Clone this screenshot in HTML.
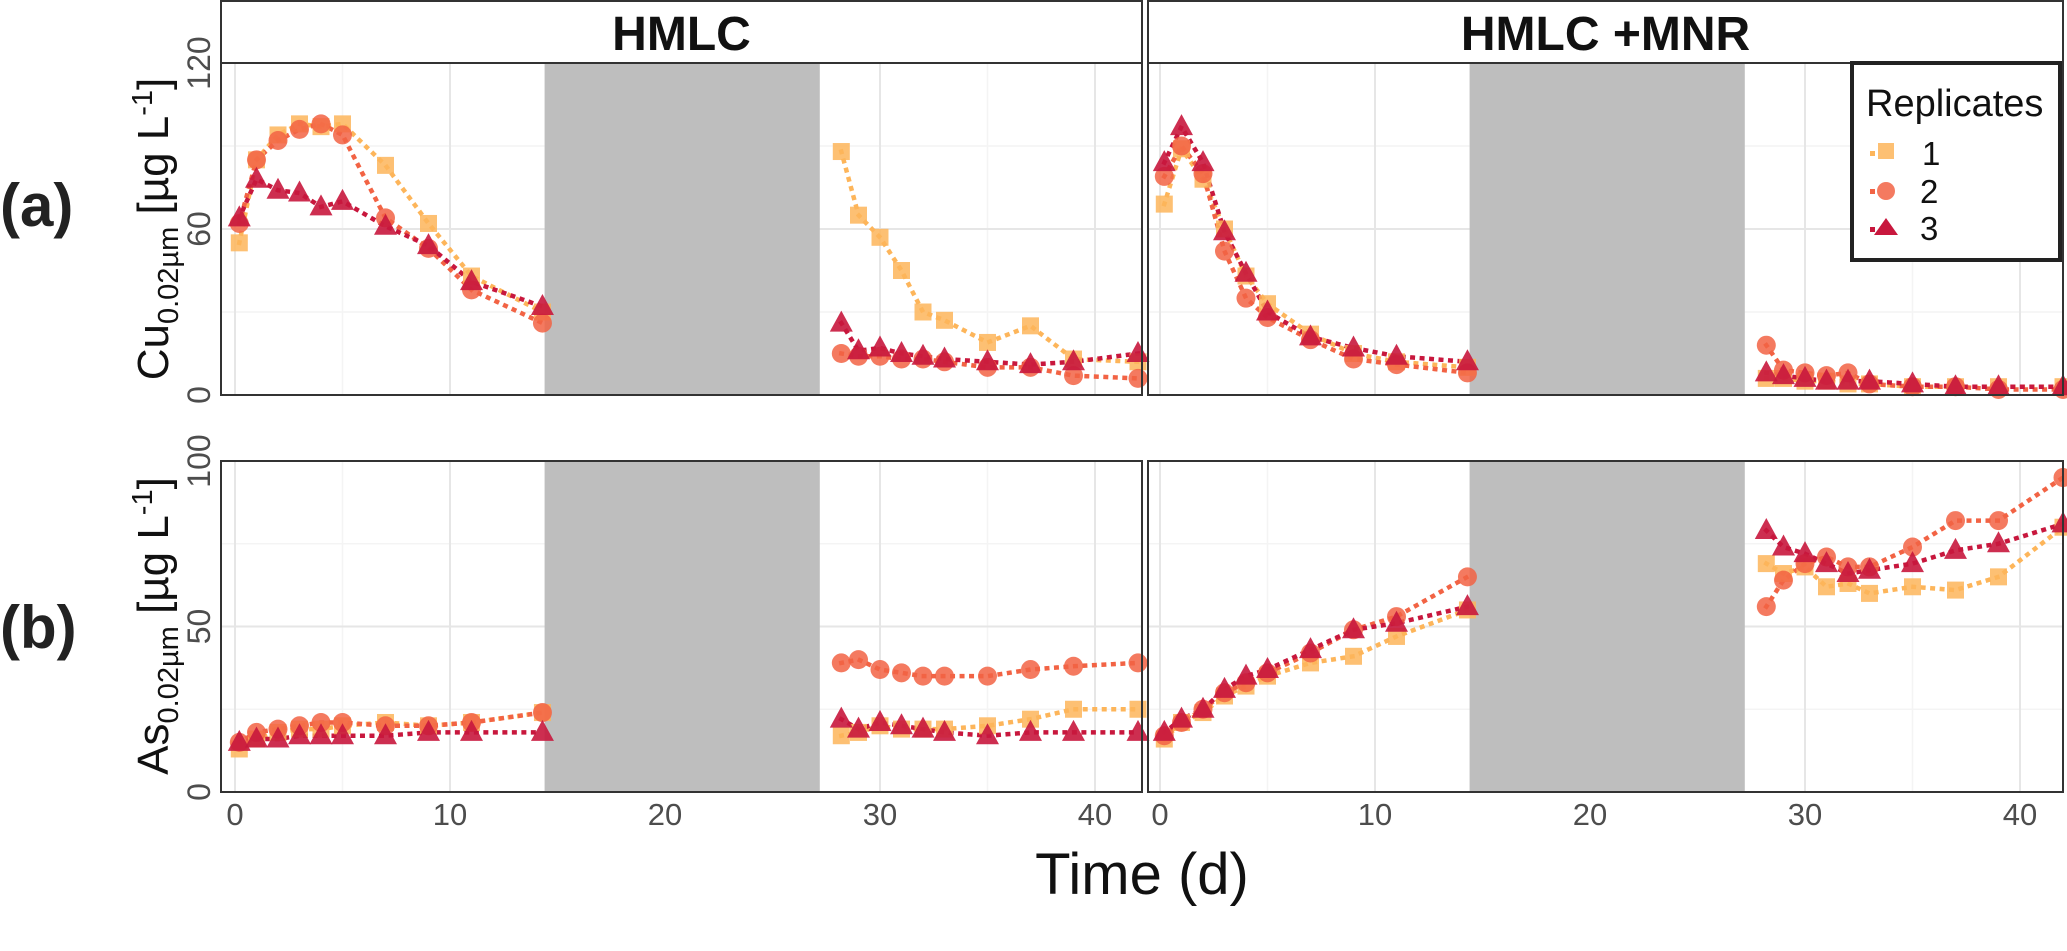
<!DOCTYPE html>
<html><head><meta charset="utf-8"><style>
body{margin:0;background:#fff}
svg{display:block;font-family:"Liberation Sans",Arial,sans-serif}
</style></head><body>
<svg id="chart" width="2067" height="951" viewBox="0 0 2067 951" xmlns="http://www.w3.org/2000/svg"></svg>
<script>
const days=[0.2,1,2,3,4,5,7,9,11,14.3,28.2,29,30,31,32,33,35,37,39,42];
const xTicks=[0,10,20,30,40];
const cuTicks=[0,60,120];
const asTicks=[0,50,100];
const pauseStart=14.4, pauseEnd=27.2;
const cuHMLC_r1=[55,85,94,98,97,98,83,62,43,30,88,65,57,45,30,27,19,25,13,12];
const cuHMLC_r2=[62,85,92,96,98,94,64,53,38,26,15,14,14,13,13,12,10,10,7,6];
const cuHMLC_r3=[64,78,74,73,68,70,61,54,41,32,26,16,17,15,14,13,12,11,12,15];
const cuMNR_r1=[69,89,78,60,43,33,22,15,12,10,6,6,5,5,4,4,3,3,3,3];
const cuMNR_r2=[79,90,80,52,35,28,20,13,11,8,18,9,8,7,8,4,3,3,2,2];
const cuMNR_r3=[84,97,84,59,44,30,21,17,14,12,8,7,6,5,5,5,4,3,3,3];
const asHMLC_r1=[13,16,18,19,19,20,21,20,21,24,17,18,20,19,19,19,20,22,25,25];
const asHMLC_r2=[15,18,19,20,21,21,20,20,21,24,39,40,37,36,35,35,35,37,38,39];
const asHMLC_r3=[15,16,16,17,17,17,17,18,18,18,22,19,21,20,19,18,17,18,18,18];
const asMNR_r1=[16,21,24,29,32,35,39,41,47,55,69,66,68,62,63,60,62,61,65,80];
const asMNR_r2=[17,21,25,30,33,36,42,49,53,65,56,64,69,71,68,68,74,82,82,95];
const asMNR_r3=[18,22,25,31,35,37,43,49,51,56,79,74,72,69,66,67,69,73,75,81];

const colors=['#fdb55a','#f26344','#c8173d'];
const NS='http://www.w3.org/2000/svg';
const svg=document.getElementById('chart');
function el(t,a,p){const e=document.createElementNS(NS,t);for(const k in a)e.setAttribute(k,a[k]);(p||svg).appendChild(e);return e;}

const panels=[
 {name:'cu-hmlc',x0:221,x1:1142,y0:63,y1:395,xo:235,ymax:120,ticks:cuTicks,series:[cuHMLC_r1,cuHMLC_r2,cuHMLC_r3],ylab:true},
 {name:'cu-hmlc-mnr',x0:1148,x1:2063,y0:63,y1:395,xo:1160,ymax:120,ticks:cuTicks,series:[cuMNR_r1,cuMNR_r2,cuMNR_r3],ylab:false},
 {name:'as-hmlc',x0:221,x1:1142,y0:461,y1:792,xo:235,ymax:100,ticks:asTicks,series:[asHMLC_r1,asHMLC_r2,asHMLC_r3],ylab:true},
 {name:'as-hmlc-mnr',x0:1148,x1:2063,y0:461,y1:792,xo:1160,ymax:100,ticks:asTicks,series:[asMNR_r1,asMNR_r2,asMNR_r3],ylab:false}
];
const pxDay=21.5;
function marker(g,k,x,y,c){
 const s=8.5;let m;
 if(k===0)m=el('rect',{x:x-s,y:y-s,width:2*s,height:2*s,fill:c,'fill-opacity':0.85},g);
 else if(k===1)m=el('circle',{cx:x,cy:y,r:s+1,fill:c,'fill-opacity':0.85},g);
 else m=el('polygon',{points:`${x},${y-s-4} ${x-s-3},${y+s} ${x+s+3},${y+s}`,fill:c,'fill-opacity':0.9},g);
 return m;
}
panels.forEach(p=>{
 const X=d=>p.xo+d*pxDay;
 const Y=v=>p.y1-(v/p.ymax)*(p.y1-p.y0);
 const g=el('g',{});
 
 
 for(let i=0;i<xTicks.length;i++){
  const mx=X(xTicks[i]+5);
  if(mx<p.x1) el('line',{x1:mx,x2:mx,y1:p.y0,y2:p.y1,stroke:'#f4f4f4','stroke-width':1.5},g);
 }
 for(let i=0;i<p.ticks.length-1;i++){const my=Y((p.ticks[i]+p.ticks[i+1])/2);el('line',{x1:p.x0,x2:p.x1,y1:my,y2:my,stroke:'#f4f4f4','stroke-width':1.5},g);}
 xTicks.forEach(t=>el('line',{x1:X(t),x2:X(t),y1:p.y0,y2:p.y1,stroke:'#e6e6e6','stroke-width':2},g));
 p.ticks.forEach(t=>el('line',{x1:p.x0,x2:p.x1,y1:Y(t),y2:Y(t),stroke:'#e6e6e6','stroke-width':2},g));
 const sh=el('rect',{x:X(pauseStart),y:p.y0,width:X(pauseEnd)-X(pauseStart),height:p.y1-p.y0,fill:'#bebebe'},g);
 
 
 p.series.forEach((s,k)=>{
  const before=[],after=[];
  s.forEach((v,i)=>{(days[i]<pauseStart?before:after).push(X(days[i])+','+Y(v));});
  [before,after].forEach(seg=>{
   const l=el('polyline',{points:seg.join(' '),fill:'none',stroke:colors[k],'stroke-width':4.5,'stroke-dasharray':'0.5 9','stroke-linecap':'square'},g);
   
   
  });
 });
 p.series.forEach((s,k)=>{
  s.forEach((v,i)=>{
   const m=marker(g,k,X(days[i]),Y(v),colors[k]);
   
   
  });
 });
 el('rect',{x:p.x0,y:p.y0,width:p.x1-p.x0,height:p.y1-p.y0,fill:'none',stroke:'#333','stroke-width':2},g);
 if(p.y1>700){
  xTicks.forEach(t=>{const tx=el('text',{x:X(t),y:p.y1+33,'text-anchor':'middle','font-size':31,fill:'#4d4d4d'},g);tx.textContent=t;
   });
 }
 if(p.ylab){
  p.ticks.forEach(t=>{const tx=el('text',{x:0,y:0,'text-anchor':'middle','font-size':32,fill:'#4d4d4d',transform:`translate(210,${Y(t)}) rotate(-90)`},g);tx.textContent=t;
   });
 }
});
[['HMLC',221,1142],['HMLC +MNR',1148,2063]].forEach(s=>{
 const r=el('rect',{x:s[1],y:1,width:s[2]-s[1],height:62,fill:'#fff',stroke:'#333','stroke-width':2});
 
 const t=el('text',{x:(s[1]+s[2])/2,y:50,'text-anchor':'middle','font-size':48,'font-weight':'bold',fill:'#111'});
 t.textContent=s[0];
});
</script>
<svg style="position:absolute;left:0;top:0" width="2067" height="951" xmlns="http://www.w3.org/2000/svg" font-family="Liberation Sans, Arial, sans-serif">
 <text transform="translate(168,229) rotate(-90)" text-anchor="middle" font-size="44" fill="#111">Cu<tspan font-size="29" dy="10">0.02µm</tspan><tspan dy="-10"> [µg L</tspan><tspan font-size="29" dy="-16">-1</tspan><tspan dy="16">]</tspan></text>
 <text transform="translate(168,626) rotate(-90)" text-anchor="middle" font-size="44" fill="#111">As<tspan font-size="29" dy="10">0.02µm</tspan><tspan dy="-10"> [µg L</tspan><tspan font-size="29" dy="-16">-1</tspan><tspan dy="16">]</tspan></text>
 <text x="0" y="226" font-size="60" font-weight="bold" fill="#222">(a)</text>
 <text x="0" y="648" font-size="60" font-weight="bold" fill="#222">(b)</text>
 <text x="1142" y="894" text-anchor="middle" font-size="58" fill="#111">Time (d)</text>
 <g>
  <rect x="1852" y="63" width="208" height="197" fill="#fff" stroke="#222" stroke-width="4"/>
  <text x="1866" y="116" font-size="38" fill="#111">Replicates</text>
  <rect x="1870" y="151" width="5" height="5" fill="#fdb55a"/><rect x="1878" y="143" width="16" height="16" fill="#fdb55a" fill-opacity="0.85"/>
  <text x="1922" y="165" font-size="33" fill="#111">1</text>
  <rect x="1870" y="189" width="5" height="5" fill="#f26344"/><circle cx="1886" cy="191" r="9" fill="#f26344" fill-opacity="0.85"/>
  <text x="1920" y="203" font-size="33" fill="#111">2</text>
  <rect x="1870" y="227" width="5" height="5" fill="#c8173d"/><polygon points="1886,218 1874,235 1898,235" fill="#c8173d"/>
  <text x="1920" y="240" font-size="33" fill="#111">3</text>
 </g>
</svg>
</body></html>
